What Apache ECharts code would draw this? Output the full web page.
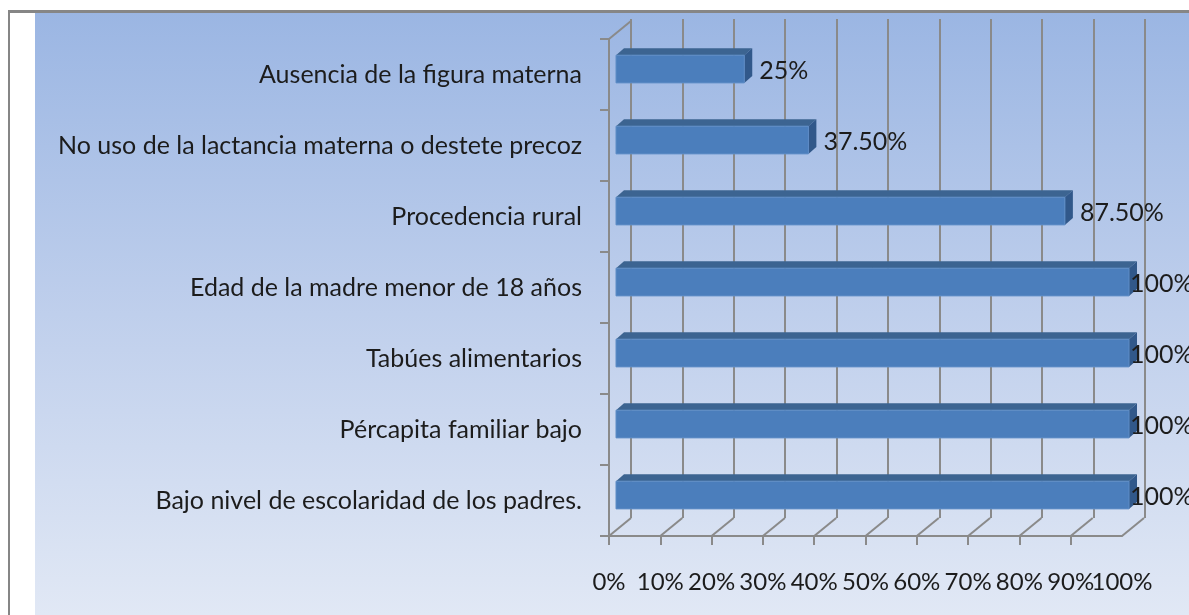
<!DOCTYPE html>
<html>
<head>
<meta charset="utf-8">
<script src="https://cdn.jsdelivr.net/npm/echarts@6/dist/echarts.min.js"></script>
<style>
html,body{margin:0;padding:0;background:#fff;}
#main{width:1189px;height:615px;}
</style>
</head>
<body>
<div id="main"></div>
<script>
var categories = [
  'Ausencia de la figura materna',
  'No uso de la lactancia materna o destete precoz',
  'Procedencia rural',
  'Edad de la madre menor de 18 años',
  'Tabúes alimentarios',
  'Pércapita familiar bajo',
  'Bajo nivel de escolaridad de los padres.'
];
var values = [25, 37.5, 87.5, 100, 100, 100, 100];
var valueLabels = ['25%', '37.50%', '87.50%', '100%', '100%', '100%', '100%'];
var xTicks = [0, 10, 20, 30, 40, 50, 60, 70, 80, 90, 100];

var FONT = 'Lato, "Open Sans", sans-serif';
var TEXT = '#1c1c1c';
var GRID = '#8a8a8a';
// 3d look: how far the back wall sits from the front plane
var WALL_DX = 22, WALL_DY = -18;
var BAR_DX = 7, BAR_DEPTH_X = 8, BAR_DEPTH_Y = 7;

var chart = echarts.init(document.getElementById('main'));

function renderFloor(params, api) {
  var v = api.value(0);
  var cs = params.coordSys;
  var x = api.coord([v, 0])[0];
  var bottom = cs.y + cs.height;
  var kids = [{
    type: 'line',
    shape: {x1: x, y1: bottom, x2: x + WALL_DX, y2: bottom + WALL_DY},
    style: {stroke: GRID, lineWidth: 2}
  }];
  if (v === 0) {
    kids.push({
      type: 'line',
      shape: {x1: x, y1: cs.y, x2: x + WALL_DX, y2: cs.y + WALL_DY},
      style: {stroke: GRID, lineWidth: 2}
    });
  }
  return {type: 'group', children: kids};
}

function renderBar(params, api) {
  var i = api.value(1);
  var start = api.coord([0, i]);
  var end = api.coord([api.value(0), i]);
  var band = api.size([0, 1])[1];
  var h = band * 0.39;
  var x0 = start[0] + BAR_DX;
  var x1 = end[0] + BAR_DX;
  var y0 = start[1] - band * 0.077 - h / 2;
  var y1 = y0 + h;
  return {
    type: 'group',
    children: [
      {
        type: 'polygon',
        shape: {points: [[x0, y0], [x0 + BAR_DEPTH_X, y0 - BAR_DEPTH_Y], [x1 + BAR_DEPTH_X, y0 - BAR_DEPTH_Y], [x1, y0]]},
        style: {fill: '#3c6491'}
      },
      {
        type: 'polygon',
        shape: {points: [[x1, y0], [x1 + BAR_DEPTH_X, y0 - BAR_DEPTH_Y], [x1 + BAR_DEPTH_X, y1 - BAR_DEPTH_Y], [x1, y1]]},
        style: {fill: '#31588a'}
      },
      {
        type: 'rect',
        shape: {x: x0, y: y0, width: x1 - x0, height: h},
        style: {fill: '#4b7ebc', stroke: '#5f8dc6', lineWidth: 1}
      }
    ]
  };
}

function renderValueLabel(params, api) {
  var i = api.value(1);
  var v = api.value(0);
  var end = api.coord([v, i]);
  var band = api.size([0, 1])[1];
  // the 100% labels run back over the end of the bar
  var x = end[0] + (v >= 100 ? 8 : BAR_DX + BAR_DEPTH_X + 7);
  return {
    type: 'text',
    style: {
      x: x,
      y: end[1] - band * 0.05,
      text: valueLabels[i],
      fill: TEXT,
      font: '25px ' + FONT,
      textAlign: 'left',
      textVerticalAlign: 'middle'
    }
  };
}

var barData = values.map(function (v, i) { return [v, i]; });

var option = {
  backgroundColor: '#ffffff',
  animation: false,
  graphic: [
    {
      type: 'rect', z: -10,
      shape: {x: 35, y: 13, width: 1154, height: 602},
      style: {
        fill: new echarts.graphic.LinearGradient(0, 0, 0, 1, [
          {offset: 0, color: '#9bb6e3'},
          {offset: 0.5, color: '#bfcfec'},
          {offset: 1, color: '#e1e8f5'}
        ])
      }
    },
    {type: 'rect', z: -9, shape: {x: 8, y: 10, width: 1181, height: 3}, style: {fill: '#868686'}},
    {type: 'rect', z: -9, shape: {x: 8, y: 10, width: 2, height: 605}, style: {fill: '#868686'}}
  ],
  grid: [
    {left: 609, top: 39, width: 513, height: 497},
    {left: 631, top: 19, width: 514, height: 499}
  ],
  xAxis: [
    {
      type: 'value', gridIndex: 0, position: 'bottom', min: 0, max: 100, interval: 10,
      axisLine: {show: true, lineStyle: {color: GRID, width: 2}},
      axisTick: {show: true, length: 9, lineStyle: {color: GRID, width: 2}},
      axisLabel: {
        show: true, margin: 34, fontSize: 24, fontFamily: FONT, color: TEXT,
        hideOverlap: false, showMinLabel: true, showMaxLabel: false,
        formatter: '{value}%'
      },
      splitLine: {show: false}
    },
    {
      type: 'value', gridIndex: 1, min: 0, max: 100, interval: 10,
      axisLine: {show: false}, axisTick: {show: false}, axisLabel: {show: false},
      splitLine: {show: true, lineStyle: {color: GRID, width: 2}}
    },
    // second axis on the front plane, only for the 100% label: it overlaps 90% like the original
    {
      type: 'value', gridIndex: 0, position: 'bottom', min: 0, max: 100, interval: 100,
      axisLine: {show: false}, axisTick: {show: false}, splitLine: {show: false},
      axisLabel: {
        show: true, margin: 34, fontSize: 24, fontFamily: FONT, color: TEXT,
        showMinLabel: false, showMaxLabel: true,
        formatter: '{value}%'
      }
    }
  ],
  yAxis: [
    {
      type: 'category', gridIndex: 0, inverse: true, data: categories,
      axisLine: {show: true, lineStyle: {color: GRID, width: 2}},
      axisTick: {show: true, length: 9, lineStyle: {color: GRID, width: 2}},
      axisLabel: {
        show: true, interval: 0, margin: 27, fontSize: 25, fontFamily: FONT, color: TEXT,
        padding: [6, 0, 0, 0]
      },
      splitLine: {show: false}
    },
    {
      type: 'value', gridIndex: 1, min: 0, max: 1,
      axisLine: {show: false}, axisTick: {show: false}, axisLabel: {show: false}, splitLine: {show: false}
    }
  ],
  series: [
    {
      type: 'custom', xAxisIndex: 0, yAxisIndex: 0, z: 1, silent: true,
      renderItem: renderFloor,
      data: xTicks.map(function (t) { return [t]; })
    },
    {
      type: 'custom', xAxisIndex: 0, yAxisIndex: 0, z: 3, silent: true,
      renderItem: renderBar,
      data: barData
    },
    {
      type: 'custom', xAxisIndex: 0, yAxisIndex: 0, z: 4, silent: true,
      renderItem: renderValueLabel,
      data: barData
    }
  ]
};
chart.setOption(option);
</script>
</body>
</html>
